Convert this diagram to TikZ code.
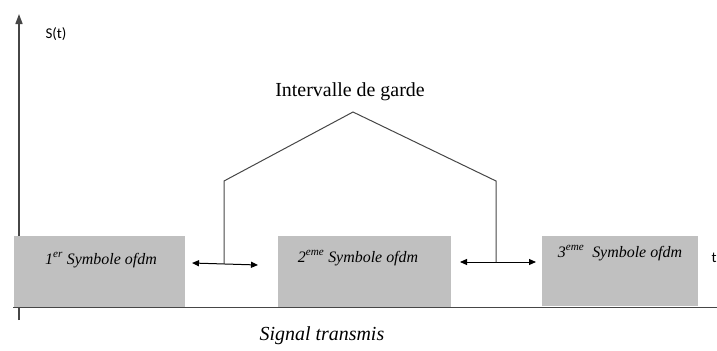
\documentclass[tikz,border=0pt]{standalone}
\usepackage{fontspec}
\setmainfont{Liberation Serif}
\newfontfamily\calfont{Carlito}
\usetikzlibrary{arrows.meta,positioning}
\definecolor{boxgray}{RGB}{192,192,192}
\definecolor{axisgray}{RGB}{70,70,70}
\tikzset{
  symbox/.style={rectangle,fill=boxgray,inner sep=0pt},
  symlab/.style={font=\fontsize{16}{18}\selectfont\itshape},
  axis/.style={draw=axisgray,line width=1.6bp},
  roof/.style={draw=axisgray,line width=1bp},
  gap/.style={draw=black,line width=1bp,{Triangle[length=7bp,width=6bp]}-{Triangle[length=7bp,width=6bp]}}
}
\begin{document}
\begin{tikzpicture}[x=1bp,y=1bp]
\useasboundingbox (0,0) rectangle (717,350);
% axes
\coordinate (o) at (19,30);
\coordinate (ytop) at (19,336);
\coordinate (xl) at (13,42.5);
\coordinate (xr) at (717,42.5);
\draw[axis,-{Triangle[length=10bp,width=7bp]}] (o) -- (ytop);
\draw[axis] (xl) -- (xr);
\node[font=\calfont\fontsize{15}{17}\selectfont] (st) at (56,316) {S(t)};
\node[font=\calfont\fontsize{15}{17}\selectfont,anchor=west] (t) at (708,92) {t};
% symboles
\node[symbox,minimum width=171bp,minimum height=71bp] (sym1) at (99.5,78.5) {};
\node[symbox,minimum width=173bp,minimum height=71bp] (sym2) at (364.5,78.5) {};
\node[symbox,minimum width=156bp,minimum height=70bp] (sym3) at (620,79) {};
\node[symlab] (lab1) at (101,90) {1\textsuperscript{er} Symbole ofdm};
\node[symlab] (lab2) at (358,92) {2\textsuperscript{eme} Symbole ofdm};
\node[symlab] (lab3) at (620,97) {3\textsuperscript{eme}\ \ Symbole ofdm};
% intervalles de garde
\coordinate (a1) at (192,87);
\coordinate (b1) at (258,85);
\coordinate (m1) at (224,86);
\coordinate (a2) at (460,88);
\coordinate (b2) at (536,88);
\coordinate (m2) at (496,88);
\draw[gap] (a1) -- (b1);
\draw[gap] (a2) -- (b2);
\coordinate (g1) at (224,169);
\coordinate (apex) at (353,238);
\coordinate (g2) at (496,169);
\draw[roof] (m1) -- (g1) -- (apex) -- (g2) -- (m2);
\node[font=\fontsize{20}{22}\selectfont] (ig) at (350,258) {Intervalle de garde};
\node[font=\fontsize{20}{22}\selectfont\itshape] (sig) at (322,14) {Signal transmis};
\end{tikzpicture}
\end{document}
